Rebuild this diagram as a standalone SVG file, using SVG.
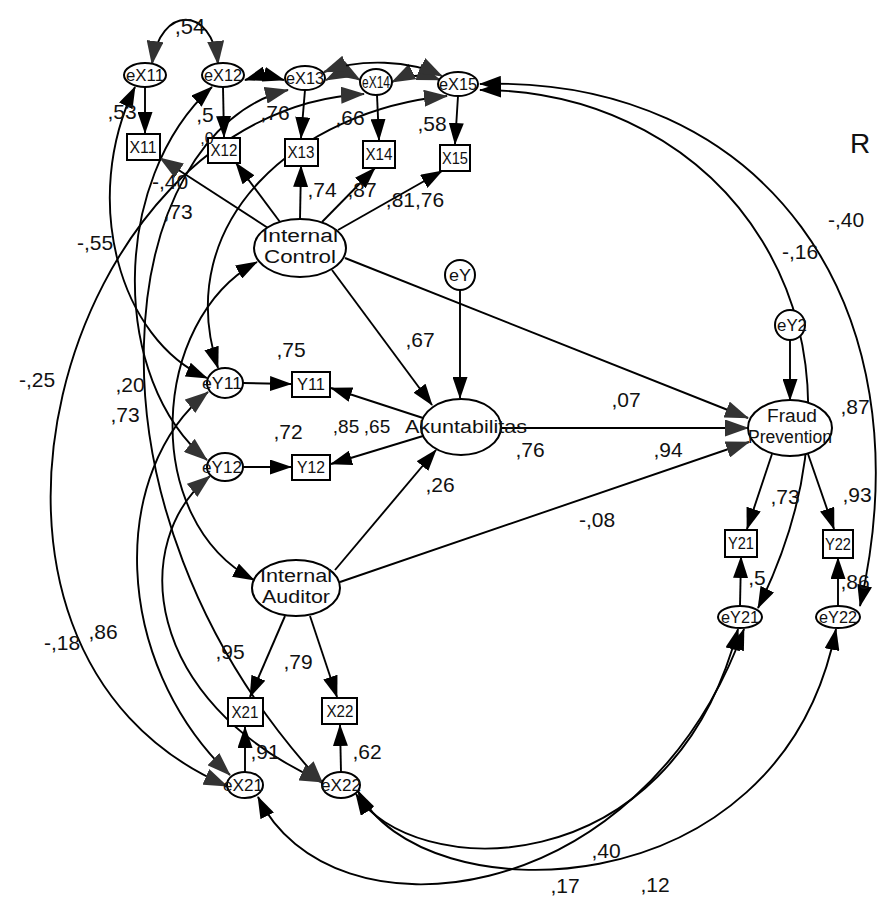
<svg xmlns="http://www.w3.org/2000/svg" width="885" height="901" viewBox="0 0 885 901">
<style>
.c{fill:none;stroke:#000;stroke-width:1.9}
.p{fill:none;stroke:#000;stroke-width:1.9}
.n{fill:#fff;stroke:#000;stroke-width:2}
text{font-family:"Liberation Sans",Arial,sans-serif;fill:#111}
.v{font-size:21px;text-anchor:middle}
.t{font-size:18px;text-anchor:middle}
.s{font-size:16px;text-anchor:middle}
</style>
<defs>
<marker id="ah" viewBox="0 0 22 15" markerWidth="22" markerHeight="15" refX="21" refY="7.5" orient="auto-start-reverse" markerUnits="userSpaceOnUse"><path d="M0,0 L22,7.5 L0,15 z" fill="#000"/></marker>
<marker id="ag" viewBox="0 0 24 17" markerWidth="24" markerHeight="17" refX="23" refY="8.5" orient="auto-start-reverse" markerUnits="userSpaceOnUse"><path d="M0,0 L24,8.5 L0,17 z" fill="#333"/></marker>
</defs>
<rect width="885" height="901" fill="#fff"/>
<g id="connectors">
<path class="c" d="M152,64 C160,5 212,5 218,64" marker-start="url(#ag)" marker-end="url(#ag)"/>
<path class="c" d="M245,80 C258,76 270,76 284,80" marker-start="url(#ah)" marker-end="url(#ah)"/>
<path class="c" d="M326,80 C338,74 350,74 360,80" marker-start="url(#ag)" marker-end="url(#ag)"/>
<path class="c" d="M392,82 C408,74 424,74 440,80" marker-start="url(#ag)" marker-end="url(#ag)"/>
<path class="c" d="M324,72 C360,58 410,60 442,76" marker-start="url(#ag)" marker-end="url(#ag)"/>
<path class="c" d="M480,84 C760,75 930,300 860,606" marker-start="url(#ah)" marker-end="url(#ah)"/>
<path class="c" d="M480,90 C720,90 900,320 758,608" marker-start="url(#ah)" marker-end="url(#ah)"/>
<path class="c" d="M356,794 C410,880 670,890 738,629" marker-start="url(#ah)" marker-end="url(#ah)"/>
<path class="c" d="M358,791 C420,915 780,915 836,629" marker-start="url(#ah)" marker-end="url(#ah)"/>
<path class="c" d="M258,797 C330,945 640,915 744,629" marker-start="url(#ah)" marker-end="url(#ah)"/>
<path class="c" d="M364,94 C60,110 -90,650 227,786" marker-start="url(#ag)" marker-end="url(#ag)"/>
<path class="c" d="M288,90 C120,130 60,500 323,784" marker-start="url(#ag)" marker-end="url(#ag)"/>
<path class="c" d="M212,87 C110,180 110,380 207,460" marker-start="url(#ah)" marker-end="url(#ag)"/>
<path class="c" d="M447,96 C300,110 170,220 218,368" marker-start="url(#ag)" marker-end="url(#ah)"/>
<path class="c" d="M257,262 C150,320 140,520 254,580" marker-start="url(#ah)" marker-end="url(#ah)"/>
<path class="c" d="M208,392 C110,470 110,660 230,775" marker-start="url(#ag)" marker-end="url(#ag)"/>
<path class="c" d="M210,476 C130,540 140,700 323,782" marker-start="url(#ag)" marker-end="url(#ag)"/>
<path class="c" d="M135,87 C80,200 120,340 207,378" marker-start="url(#ah)" marker-end="url(#ah)"/>
<path class="p" d="M145,87 L145,133" marker-end="url(#ah)"/>
<path class="p" d="M223,87 L224,137" marker-end="url(#ah)"/>
<path class="p" d="M305,90 L301,138" marker-end="url(#ah)"/>
<path class="p" d="M377,95 L379,140" marker-end="url(#ah)"/>
<path class="p" d="M458,96 L455,144" marker-end="url(#ah)"/>
<path class="p" d="M268,228 L160,158" marker-end="url(#ag)"/>
<path class="p" d="M280,222 L236,163" marker-end="url(#ah)"/>
<path class="p" d="M300,219 L301,166" marker-end="url(#ah)"/>
<path class="p" d="M322,222 L375,168" marker-end="url(#ah)"/>
<path class="p" d="M338,230 L442,171" marker-end="url(#ah)"/>
<path class="p" d="M332,270 L432,405" marker-end="url(#ah)"/>
<path class="p" d="M345,258 L748,418" marker-end="url(#ag)"/>
<path class="p" d="M460,290 L460,398" marker-end="url(#ah)"/>
<path class="p" d="M423,418 L331,388" marker-end="url(#ah)"/>
<path class="p" d="M423,436 L331,464" marker-end="url(#ah)"/>
<path class="p" d="M243,383 L291,384" marker-end="url(#ah)"/>
<path class="p" d="M243,467 L291,467" marker-end="url(#ah)"/>
<path class="p" d="M335,570 L436,450" marker-end="url(#ah)"/>
<path class="p" d="M501,428 L748,428" marker-end="url(#ag)"/>
<path class="p" d="M340,582 L749,442" marker-end="url(#ag)"/>
<path class="p" d="M285,616 L250,697" marker-end="url(#ah)"/>
<path class="p" d="M310,616 L337,697" marker-end="url(#ah)"/>
<path class="p" d="M245,772 L245,727" marker-end="url(#ah)"/>
<path class="p" d="M341,772 L340,725" marker-end="url(#ah)"/>
<path class="p" d="M790,340 L790,400" marker-end="url(#ah)"/>
<path class="p" d="M772,454 L747,529" marker-end="url(#ah)"/>
<path class="p" d="M808,454 L834,529" marker-end="url(#ah)"/>
<path class="p" d="M740,606 L741,557" marker-end="url(#ah)"/>
<path class="p" d="M838,606 L838,558" marker-end="url(#ah)"/>
</g>
<g id="eX11"><ellipse class="n" cx="145" cy="75" rx="21" ry="12"/><text class="s" x="145" y="81" textLength="38" lengthAdjust="spacingAndGlyphs">eX11</text></g>
<g id="eX12"><ellipse class="n" cx="223" cy="75" rx="21" ry="12"/><text class="s" x="223" y="81" textLength="38" lengthAdjust="spacingAndGlyphs">eX12</text></g>
<g id="eX13"><ellipse class="n" cx="305" cy="78" rx="20" ry="12"/><text class="s" x="305" y="84" textLength="38" lengthAdjust="spacingAndGlyphs">eX13</text></g>
<g id="eX14"><ellipse class="n" cx="376" cy="82" rx="16" ry="13"/><text class="s" x="376" y="88" textLength="28" lengthAdjust="spacingAndGlyphs">eX14</text></g>
<g id="eX15"><ellipse class="n" cx="458" cy="84" rx="20" ry="12"/><text class="s" x="458" y="90" textLength="38" lengthAdjust="spacingAndGlyphs">eX15</text></g>
<g id="X11"><rect class="n" x="127" y="134" width="33" height="26"/><text class="s" x="143" y="153" textLength="27" lengthAdjust="spacingAndGlyphs">X11</text></g>
<g id="X12"><rect class="n" x="208" y="138" width="32" height="25"/><text class="s" x="224" y="156" textLength="27" lengthAdjust="spacingAndGlyphs">X12</text></g>
<g id="X13"><rect class="n" x="285" y="139" width="33" height="27"/><text class="s" x="301" y="158" textLength="27" lengthAdjust="spacingAndGlyphs">X13</text></g>
<g id="X14"><rect class="n" x="363" y="141" width="32" height="27"/><text class="s" x="379" y="160" textLength="27" lengthAdjust="spacingAndGlyphs">X14</text></g>
<g id="X15"><rect class="n" x="440" y="145" width="30" height="26"/><text class="s" x="455" y="164" textLength="26" lengthAdjust="spacingAndGlyphs">X15</text></g>
<g id="InternalControl"><ellipse class="n" cx="300" cy="248" rx="46" ry="29"/><text class="t" x="300" y="242" textLength="76" lengthAdjust="spacingAndGlyphs">Internal</text><text class="t" x="300" y="263" textLength="72" lengthAdjust="spacingAndGlyphs">Control</text></g>
<g id="eY"><circle class="n" cx="460" cy="275" r="15"/><text class="s" x="460" y="281" textLength="22" lengthAdjust="spacingAndGlyphs">eY</text></g>
<g id="Akuntabilitas"><ellipse class="n" cx="461" cy="427" rx="40" ry="28"/><text class="t" x="466" y="433" textLength="122" lengthAdjust="spacingAndGlyphs">Akuntabilitas</text></g>
<g id="eY11"><ellipse class="n" cx="225" cy="383" rx="18" ry="15"/><text class="s" x="222" y="389" textLength="40" lengthAdjust="spacingAndGlyphs">eY11</text></g>
<g id="Y11"><rect class="n" x="292" y="372" width="38" height="25"/><text class="s" x="311" y="390" textLength="28" lengthAdjust="spacingAndGlyphs">Y11</text></g>
<g id="eY12"><ellipse class="n" cx="225" cy="467" rx="18" ry="14"/><text class="s" x="222" y="473" textLength="40" lengthAdjust="spacingAndGlyphs">eY12</text></g>
<g id="Y12"><rect class="n" x="292" y="455" width="38" height="25"/><text class="s" x="311" y="473" textLength="28" lengthAdjust="spacingAndGlyphs">Y12</text></g>
<g id="InternalAuditor"><ellipse class="n" cx="296" cy="588" rx="44" ry="28"/><text class="t" x="296" y="582" textLength="72" lengthAdjust="spacingAndGlyphs">Internal</text><text class="t" x="296" y="603" textLength="68" lengthAdjust="spacingAndGlyphs">Auditor</text></g>
<g id="X21"><rect class="n" x="228" y="698" width="35" height="28"/><text class="s" x="245" y="718" textLength="27" lengthAdjust="spacingAndGlyphs">X21</text></g>
<g id="X22"><rect class="n" x="322" y="698" width="35" height="26"/><text class="s" x="340" y="717" textLength="27" lengthAdjust="spacingAndGlyphs">X22</text></g>
<g id="eX21"><ellipse class="n" cx="245" cy="785" rx="18" ry="13"/><text class="s" x="243" y="791" textLength="40" lengthAdjust="spacingAndGlyphs">eX21</text></g>
<g id="eX22"><ellipse class="n" cx="341" cy="785" rx="19" ry="13"/><text class="s" x="341" y="791" textLength="40" lengthAdjust="spacingAndGlyphs">eX22</text></g>
<g id="eY2"><circle class="n" cx="790" cy="325" r="15"/><text class="s" x="792" y="331" textLength="30" lengthAdjust="spacingAndGlyphs">eY2</text></g>
<g id="FraudPrevention"><ellipse class="n" cx="790" cy="428" rx="42" ry="28"/><text class="t" x="792" y="422" textLength="50" lengthAdjust="spacingAndGlyphs">Fraud</text><text class="t" x="790" y="443" textLength="84" lengthAdjust="spacingAndGlyphs">Prevention</text></g>
<g id="Y21"><rect class="n" x="725" y="530" width="32" height="27"/><text class="s" x="741" y="549" textLength="26" lengthAdjust="spacingAndGlyphs">Y21</text></g>
<g id="Y22"><rect class="n" x="823" y="530" width="30" height="28"/><text class="s" x="838" y="550" textLength="26" lengthAdjust="spacingAndGlyphs">Y22</text></g>
<g id="eY21"><ellipse class="n" cx="740" cy="617" rx="22" ry="11"/><text class="s" x="740" y="623" textLength="38" lengthAdjust="spacingAndGlyphs">eY21</text></g>
<g id="eY22"><ellipse class="n" cx="838" cy="617" rx="22" ry="11"/><text class="s" x="838" y="623" textLength="38" lengthAdjust="spacingAndGlyphs">eY22</text></g>
<g id="labels">
<text class="v" x="190" y="34" style="font-size:22px">,54</text>
<text class="v" x="122" y="119">,53</text>
<text class="v" x="205" y="122">,5</text>
<text class="v" x="207" y="144" style="font-size:16px">,0</text>
<text class="v" x="275" y="120">,76</text>
<text class="v" x="350" y="125">,66</text>
<text class="v" x="432" y="131">,58</text>
<text class="v" x="170" y="189">-,40</text>
<text class="v" x="178" y="219">,73</text>
<text class="v" x="322" y="197">,74</text>
<text class="v" x="362" y="197">,87</text>
<text class="v" x="415" y="207">,81,76</text>
<text class="v" x="95" y="250">-,55</text>
<text class="v" x="846" y="227">-,40</text>
<text class="v" x="800" y="259">-,16</text>
<text class="v" x="291" y="357">,75</text>
<text class="v" x="420" y="347">,67</text>
<text class="v" x="37" y="387">-,25</text>
<text class="v" x="130" y="392">,20</text>
<text class="v" x="125" y="422">,73</text>
<text class="v" x="288" y="439">,72</text>
<text class="v" x="346" y="433" style="font-size:19px">,85</text>
<text class="v" x="377" y="433" style="font-size:19px">,65</text>
<text class="v" x="626" y="407">,07</text>
<text class="v" x="530" y="457">,76</text>
<text class="v" x="668" y="457">,94</text>
<text class="v" x="855" y="414">,87</text>
<text class="v" x="440" y="492">,26</text>
<text class="v" x="597" y="527">-,08</text>
<text class="v" x="785" y="504">,73</text>
<text class="v" x="857" y="502">,93</text>
<text class="v" x="757" y="585">,5</text>
<text class="v" x="855" y="589">,86</text>
<text class="v" x="62" y="650">-,18</text>
<text class="v" x="103" y="639">,86</text>
<text class="v" x="230" y="659">,95</text>
<text class="v" x="298" y="669">,79</text>
<text class="v" x="265" y="759">,91</text>
<text class="v" x="367" y="759">,62</text>
<text class="v" x="606" y="858">,40</text>
<text class="v" x="565" y="893">,17</text>
<text class="v" x="655" y="892">,12</text>
<text x="850" y="153" style="font-size:28px">R</text>
</g>
</svg>
